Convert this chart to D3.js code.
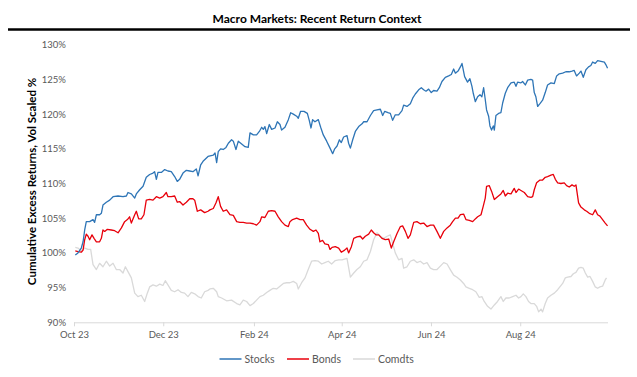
<!DOCTYPE html>
<html>
<head>
<meta charset="utf-8">
<script src="https://cdn.jsdelivr.net/npm/d3@7"></script>
<style>
  body { margin: 0; background: #fff; }
  svg { display: block; font-family: Lato, "Open Sans", sans-serif; }
  .tick text { fill: #595959; font-size: 9.5px; font-family: Lato, "Open Sans", sans-serif; }
  .title { font-weight: bold; font-size: 12px; fill: #000; }
  .axis-label { font-weight: bold; font-size: 11.5px; fill: #000; }
  .legend text { fill: #595959; font-size: 10.5px; }
</style>
</head>
<body>
<svg width="637" height="377"></svg>
<script>
// each point: [days since 1 Oct 2023, cumulative return %]
const stocks = [
  [0.9,99.7],[2.7,100.0],[5.0,100.7],[6.2,101.6],[7.3,103.3],[8.4,104.5],[10.7,104.5],[13.0,104.8],[14.1,104.4],[15.3,105.5],
  [17.5,105.5],[18.7,105.7],[19.8,106.9],[22.1,107.3],[24.4,107.6],[26.7,108.1],[30.1,108.2],[33.5,108.1],[35.8,108.2],[36.9,108.7],
  [39.2,108.5],[41.5,107.9],[42.6,108.5],[44.9,109.1],[47.2,109.6],[49.4,110.9],[51.7,111.3],[54.0,111.5],[55.1,111.7],[56.3,110.6],
  [57.4,111.6],[59.7,111.6],[62.0,112.0],[64.2,111.8],[66.5,111.7],[68.8,111.0],[70.6,110.3],[72.2,110.6],[74.5,111.5],[76.8,111.9],
  [79.1,111.8],[81.3,111.7],[83.6,112.1],[84.8,111.1],[86.6,112.7],[88.2,113.2],[91.6,113.9],[95.2,114.1],[96.4,114.4],[97.5,113.0],
  [98.6,114.6],[100.2,115.0],[102.0,114.9],[103.9,115.2],[105.5,115.8],[107.7,116.3],[108.9,116.1],[110.7,114.9],[112.3,116.1],[114.6,115.7],
  [116.9,115.3],[119.1,115.2],[120.3,117.3],[122.6,117.0],[124.8,117.0],[126.7,117.5],[128.3,118.1],[129.4,117.8],[130.5,118.2],[131.7,117.2],
  [133.5,118.5],[135.1,117.8],[137.4,118.0],[139.0,118.9],[140.8,118.5],[141.9,117.7],[144.2,118.1],[146.5,119.2],[148.1,120.2],[149.9,120.0],
  [152.2,119.7],[153.3,119.4],[154.9,120.4],[157.2,120.4],[159.5,120.1],[160.8,119.1],[162.0,118.0],[163.1,119.2],[164.7,118.9],[167.0,119.2],
  [168.6,118.1],[170.4,117.0],[172.7,116.1],[175.0,115.1],[176.8,114.3],[178.2,115.0],[179.8,115.4],[181.4,116.3],[182.7,115.9],[184.3,116.7],
  [186.6,116.9],[187.7,115.8],[188.9,115.1],[190.5,116.3],[192.3,117.5],[194.6,118.2],[196.9,118.6],[198.0,118.9],[200.3,118.9],[202.6,119.8],
  [204.8,120.5],[207.1,120.6],[209.4,120.7],[211.0,119.8],[212.4,120.4],[214.6,120.2],[216.2,120.1],[217.8,119.1],[219.6,119.9],[221.9,119.9],
  [224.2,120.5],[225.3,121.3],[227.6,121.1],[229.9,121.5],[231.5,122.3],[233.3,122.9],[235.6,123.5],[237.4,123.8],[239.0,123.5],[240.6,123.3],
  [242.4,123.6],[244.2,123.1],[245.8,123.4],[248.1,123.3],[249.7,123.8],[251.5,124.7],[253.8,125.3],[256.1,125.5],[257.9,125.7],[259.5,126.5],
  [260.7,125.9],[262.5,126.2],[264.1,126.8],[265.2,127.3],[267.0,125.4],[269.0,124.6],[270.6,125.1],[272.0,124.0],[272.9,123.0],[274.3,121.8],
  [275.9,122.5],[277.5,122.8],[278.8,122.5],[280.0,123.8],[281.1,122.1],[282.0,120.6],[283.4,119.7],[284.3,118.3],[285.4,117.7],[286.6,118.3],
  [287.3,117.7],[288.4,119.8],[290.2,120.1],[291.8,120.2],[293.0,121.6],[294.8,123.0],[296.4,123.8],[298.7,124.5],[300.9,124.6],[302.1,124.0],
  [303.2,124.6],[305.5,124.5],[306.6,124.7],[308.5,124.2],[310.1,124.9],[312.3,125.0],[313.5,124.9],[314.6,123.1],[315.7,122.5],[316.9,121.1],
  [318.5,121.5],[320.3,122.0],[322.1,123.1],[323.7,124.2],[326.0,124.5],[328.3,124.4],[329.9,125.5],[331.7,125.8],[334.0,125.9],[336.2,126.1],
  [338.5,126.1],[340.4,126.2],[341.9,126.3],[343.5,125.5],[345.4,125.9],[346.5,126.2],[348.1,125.3],[349.9,126.4],[351.7,126.8],[353.3,127.0],
  [354.5,127.5],[356.3,127.3],[357.9,127.7],[360.2,127.6],[362.5,127.5],[363.6,127.1],[364.7,126.6]
];

const bonds = [
  [0.9,100.3],[2.7,100.2],[5.0,100.1],[6.2,100.4],[7.3,101.9],[8.4,102.7],[9.6,102.4],[10.7,101.9],[12.3,102.6],[13.7,102.1],
  [15.3,101.6],[17.5,101.6],[18.7,102.1],[19.8,103.3],[21.0,103.1],[22.8,103.4],[25.5,103.3],[27.8,103.2],[30.1,102.9],[32.4,103.6],
  [34.6,104.5],[36.5,104.8],[38.0,105.2],[39.2,104.3],[41.5,105.5],[42.6,106.0],[44.2,104.9],[46.0,104.9],[47.8,105.5],[49.4,107.6],
  [51.7,107.7],[54.0,107.6],[56.3,108.1],[58.6,107.9],[60.8,108.1],[63.1,108.7],[64.2,108.1],[66.5,108.1],[68.8,108.2],[70.6,107.3],
  [72.2,107.4],[74.5,106.9],[76.8,107.3],[79.1,107.8],[81.3,107.8],[82.5,107.6],[84.3,106.0],[86.6,106.2],[89.3,105.8],[91.6,106.0],
  [92.9,106.2],[95.2,106.4],[97.0,107.2],[98.6,108.1],[100.2,106.7],[102.0,106.0],[104.3,106.2],[106.6,105.5],[108.9,105.4],[111.2,104.5],
  [113.4,104.4],[115.7,104.4],[118.0,104.3],[120.3,104.3],[122.6,104.2],[124.8,104.0],[127.1,104.5],[128.3,105.2],[130.5,105.1],[132.8,106.0],
  [135.1,106.1],[137.4,106.0],[139.6,105.2],[141.9,104.5],[144.2,104.0],[146.5,103.8],[147.6,104.5],[149.4,104.8],[152.2,105.0],[154.5,104.8],
  [156.7,104.8],[159.0,104.0],[161.3,103.4],[163.6,103.1],[165.4,103.3],[167.0,102.8],[168.1,101.6],[169.9,101.8],[171.5,101.3],[173.8,101.2],
  [175.0,100.5],[176.4,100.8],[178.6,100.9],[180.9,100.7],[182.7,100.1],[185.0,100.4],[186.6,100.7],[187.7,100.0],[189.6,100.9],[191.2,102.1],
  [193.4,102.3],[195.7,102.4],[197.3,102.0],[199.1,102.4],[201.4,102.7],[203.2,103.3],[204.8,102.9],[206.4,102.6],[208.3,102.6],[210.5,102.1],
  [212.8,101.9],[215.1,102.0],[216.9,100.7],[218.5,101.6],[220.8,102.8],[223.1,103.8],[224.6,103.9],[226.5,103.1],[228.3,102.1],[229.9,102.6],
  [232.2,104.4],[234.4,104.5],[236.7,104.2],[239.0,104.3],[241.3,103.8],[243.6,104.0],[245.8,104.0],[248.1,103.1],[250.4,102.1],[252.7,103.1],
  [255.0,103.6],[257.2,104.0],[258.8,104.5],[260.7,105.0],[262.5,105.0],[264.1,105.5],[266.3,105.6],[267.9,104.8],[270.2,104.7],[272.5,104.5],
  [274.3,104.9],[275.9,105.2],[278.2,105.5],[279.7,106.7],[281.1,107.9],[282.0,109.6],[283.8,109.7],[285.4,108.9],[287.3,107.7],[289.5,108.1],
  [291.8,108.5],[293.4,109.0],[294.8,108.2],[296.4,108.6],[298.7,108.5],[300.9,109.3],[302.1,108.7],[303.9,109.2],[305.5,109.0],[307.8,108.7],
  [310.1,108.1],[312.3,108.0],[313.5,108.1],[314.6,109.1],[316.2,110.1],[318.5,110.5],[320.3,110.5],[322.1,110.9],[323.7,111.0],[326.0,111.2],
  [327.6,111.3],[329.0,110.6],[330.6,110.1],[332.8,110.0],[335.1,110.1],[336.7,109.7],[338.5,109.5],[340.4,109.8],[341.9,109.6],[343.1,109.8],
  [344.9,107.2],[346.5,106.6],[348.8,106.2],[350.4,106.0],[352.2,105.7],[354.5,105.5],[356.3,106.2],[357.9,105.5],[359.5,105.3],[361.3,104.8],
  [363.1,104.3],[364.7,103.9]
];

const comdts = [
  [0.9,100.8],[2.7,100.7],[5.0,100.3],[7.3,100.7],[9.6,100.5],[11.4,100.5],[13.0,98.3],[15.3,97.6],[17.5,98.5],[19.8,98.0],
  [22.1,98.8],[24.4,98.1],[26.7,98.5],[28.9,97.6],[31.2,97.6],[33.5,97.1],[35.1,98.0],[36.9,97.3],[39.2,96.4],[41.5,94.2],
  [43.7,93.7],[46.0,93.9],[48.3,93.0],[50.1,94.2],[51.7,95.1],[54.0,95.4],[56.3,95.2],[58.6,95.5],[60.8,95.3],[62.4,96.0],
  [64.2,95.4],[66.5,94.6],[68.8,94.4],[71.1,94.7],[73.4,94.3],[75.6,94.2],[77.9,93.7],[80.2,94.3],[82.5,94.1],[84.8,93.7],
  [87.0,93.5],[89.3,94.4],[91.6,94.6],[92.9,94.8],[95.2,94.9],[97.5,94.4],[98.6,93.7],[100.9,93.5],[104.3,93.1],[107.7,93.2],
  [111.2,92.7],[113.4,92.5],[115.7,93.2],[118.0,93.0],[120.3,92.4],[122.6,92.7],[124.8,93.2],[127.1,93.7],[129.4,93.9],[131.7,94.3],
  [133.9,94.6],[136.2,94.9],[138.5,94.8],[140.8,95.2],[143.1,95.6],[145.3,95.7],[147.6,95.7],[149.9,95.9],[152.2,95.6],[153.3,94.8],
  [155.6,95.7],[157.9,96.4],[160.1,97.6],[162.4,98.8],[164.7,98.9],[167.0,98.8],[169.3,98.4],[171.5,98.6],[173.8,98.8],[176.1,98.4],
  [178.6,98.9],[180.9,99.0],[183.2,99.0],[186.6,99.2],[188.9,96.5],[191.2,97.1],[193.4,97.6],[195.7,98.0],[198.0,98.8],[200.3,99.0],
  [202.6,100.2],[204.8,101.9],[207.1,102.9],[209.4,102.4],[211.7,102.1],[214.0,102.4],[216.2,102.6],[217.8,101.4],[219.6,100.0],[221.9,99.0],
  [224.2,99.2],[225.3,97.8],[227.6,98.0],[229.9,98.8],[232.2,99.0],[234.4,98.6],[236.7,98.8],[239.0,98.4],[241.3,98.6],[243.6,97.8],
  [245.8,97.6],[248.1,97.6],[250.4,98.1],[252.7,98.6],[255.0,98.4],[257.2,97.6],[259.5,96.8],[261.8,96.5],[264.1,96.1],[266.3,95.6],
  [267.9,95.1],[270.2,94.9],[272.5,94.7],[274.7,94.4],[277.0,93.6],[278.8,93.7],[280.4,93.0],[282.7,92.3],[285.0,91.9],[287.3,92.5],
  [289.5,93.0],[291.8,93.7],[293.4,93.0],[295.2,93.5],[297.5,93.5],[299.8,93.7],[302.1,93.9],[303.9,93.5],[305.5,93.7],[307.1,94.1],
  [308.9,93.7],[310.7,93.0],[312.3,92.7],[314.6,92.7],[316.2,92.3],[317.6,91.5],[319.2,91.9],[320.3,91.5],[322.1,92.7],[323.7,93.5],
  [326.0,93.9],[328.3,94.2],[330.6,94.7],[332.1,95.1],[334.0,95.6],[335.8,96.4],[337.4,96.5],[339.7,96.6],[341.3,97.0],[343.1,97.2],
  [344.9,97.8],[346.5,97.9],[348.1,97.8],[349.5,97.1],[351.1,96.5],[352.7,96.6],[354.5,95.9],[356.3,95.1],[357.9,94.9],[359.5,95.1],
  [361.3,95.2],[363.1,96.1],[364.0,96.4]
];

const seriesNames = ['Stocks', 'Bonds', 'Comdts'];
const seriesColors = ['#2E75B6', '#E8000B', '#D9D9D9'];
const yTicks = [90, 95, 100, 105, 110, 115, 120, 125, 130];
const xTickMonths = ['2023-10', '2023-12', '2024-02', '2024-04', '2024-06', '2024-08'];

const svg = d3.select('svg');
const width = +svg.attr('width');
const height = +svg.attr('height');

const margin = { top: 44.7, right: 29, bottom: 54.7, left: 74 };
const innerWidth = width - margin.left - margin.right;
const innerHeight = height - margin.top - margin.bottom;

const startDate = new Date(2023, 9, 1);
const toDate = days => new Date(startDate.getTime() + days * 864e5);

const xScale = d3.scaleTime()
  .domain([startDate, new Date(2024, 8, 30)])
  .range([0, innerWidth]);

const yScale = d3.scaleLinear()
  .domain([90, 130])
  .range([innerHeight, 0]);

// title + heavy rule
svg.append('text')
  .attr('class', 'title')
  .attr('x', 317)
  .attr('y', 23)
  .style('text-anchor', 'middle')
  .text('Macro Markets: Recent Return Context');

svg.append('line')
  .attr('x1', 8).attr('x2', 630)
  .attr('y1', 29.5).attr('y2', 29.5)
  .attr('stroke', '#000')
  .attr('stroke-width', 2.4);

const g = svg.append('g')
  .attr('transform', `translate(${margin.left}, ${margin.top})`);

const xAxis = d3.axisBottom(xScale)
  .tickValues(xTickMonths.map(m => d3.timeParse('%Y-%m')(m)))
  .tickFormat(d3.timeFormat('%b %y'))
  .tickSize(4)
  .tickPadding(5);

const xAxisGroup = g.append('g').call(xAxis)
  .attr('transform', `translate(0, ${innerHeight})`)
  .attr('font-family', null)
  .attr('font-size', null);
xAxisGroup.select('.domain').attr('stroke', '#D9D9D9').attr('d', `M0,0.5H${innerWidth}`);
xAxisGroup.selectAll('.tick line').attr('stroke', '#D9D9D9');

const yAxis = d3.axisLeft(yScale)
  .tickValues(yTicks)
  .tickFormat(d => d + '%')
  .tickSize(0)
  .tickPadding(8);

const yAxisGroup = g.append('g').call(yAxis)
  .attr('font-family', null)
  .attr('font-size', null);
yAxisGroup.select('.domain').remove();

g.append('text')
  .attr('class', 'axis-label')
  .attr('x', -innerHeight / 2 + 2)
  .attr('y', -38)
  .attr('transform', 'rotate(-90)')
  .style('text-anchor', 'middle')
  .text('Cumulative Excess Returns, Vol Scaled %');

const lineGenerator = d3.line()
  .x(d => xScale(toDate(d[0])))
  .y(d => yScale(d[1]));

// draw grey first so the coloured lines sit on top
[comdts, bonds, stocks].forEach((data, i) => {
  g.append('path')
    .attr('fill', 'none')
    .attr('stroke', seriesColors[2 - i])
    .attr('stroke-width', 1.3)
    .attr('stroke-linejoin', 'round')
    .attr('d', lineGenerator(data));
});

// legend
const legendX = [219.5, 287, 353];
const legend = svg.append('g').attr('class', 'legend');
seriesNames.forEach((name, i) => {
  legend.append('line')
    .attr('x1', legendX[i]).attr('x2', legendX[i] + 22)
    .attr('y1', 359).attr('y2', 359)
    .attr('stroke', seriesColors[i])
    .attr('stroke-width', 1.5);
  legend.append('text')
    .attr('x', legendX[i] + 25)
    .attr('y', 362.5)
    .text(name);
});
</script>
</body>
</html>
